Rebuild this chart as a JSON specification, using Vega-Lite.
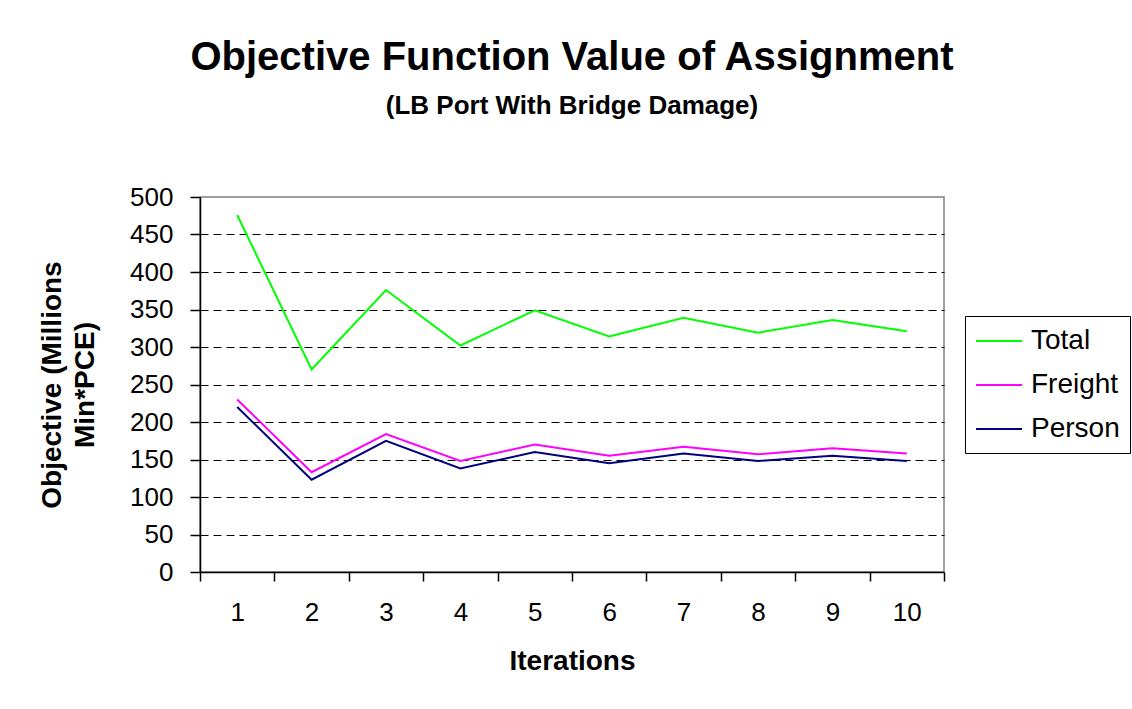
{
  "$schema": "https://vega.github.io/schema/vega-lite/v6.json",
  "autosize": "none",
  "width": 744,
  "height": 375,
  "padding": {"left": 200, "top": 197, "right": 188, "bottom": 137},
  "background": "white",
  "title": {
    "text": "Objective Function Value of Assignment",
    "subtitle": "(LB Port With Bridge Damage)",
    "anchor": "middle",
    "font": "Liberation Sans",
    "fontSize": 40,
    "fontWeight": "bold",
    "color": "black",
    "subtitleFont": "Liberation Sans",
    "subtitleFontSize": 26,
    "subtitleFontWeight": "bold",
    "subtitleColor": "black",
    "subtitlePadding": 15,
    "offset": 65
  },
  "data": {
    "values": [
      {"iteration": "1", "series": "Total", "value": 476},
      {"iteration": "2", "series": "Total", "value": 270},
      {"iteration": "3", "series": "Total", "value": 376},
      {"iteration": "4", "series": "Total", "value": 302},
      {"iteration": "5", "series": "Total", "value": 349},
      {"iteration": "6", "series": "Total", "value": 314},
      {"iteration": "7", "series": "Total", "value": 339},
      {"iteration": "8", "series": "Total", "value": 319},
      {"iteration": "9", "series": "Total", "value": 336},
      {"iteration": "10", "series": "Total", "value": 321},
      {"iteration": "1", "series": "Freight", "value": 230},
      {"iteration": "2", "series": "Freight", "value": 133},
      {"iteration": "3", "series": "Freight", "value": 184},
      {"iteration": "4", "series": "Freight", "value": 148},
      {"iteration": "5", "series": "Freight", "value": 170},
      {"iteration": "6", "series": "Freight", "value": 155},
      {"iteration": "7", "series": "Freight", "value": 167},
      {"iteration": "8", "series": "Freight", "value": 157},
      {"iteration": "9", "series": "Freight", "value": 165},
      {"iteration": "10", "series": "Freight", "value": 158},
      {"iteration": "1", "series": "Person", "value": 220},
      {"iteration": "2", "series": "Person", "value": 123},
      {"iteration": "3", "series": "Person", "value": 175},
      {"iteration": "4", "series": "Person", "value": 138},
      {"iteration": "5", "series": "Person", "value": 160},
      {"iteration": "6", "series": "Person", "value": 145},
      {"iteration": "7", "series": "Person", "value": 158},
      {"iteration": "8", "series": "Person", "value": 148},
      {"iteration": "9", "series": "Person", "value": 155},
      {"iteration": "10", "series": "Person", "value": 148}
    ]
  },
  "mark": {"type": "line", "strokeWidth": 2},
  "encoding": {
    "x": {
      "field": "iteration",
      "type": "ordinal",
      "sort": ["1","2","3","4","5","6","7","8","9","10"],
      "scale": {"type": "band", "paddingInner": 0, "paddingOuter": 0},
      "axis": {
        "title": "Iterations",
        "labelAngle": 0,
        "tickBand": "extent",
        "tickSize": 9,
        "tickColor": "black",
        "domainColor": "black",
        "labelFont": "Liberation Sans",
        "labelFontSize": 26,
        "labelColor": "black",
        "labelPadding": 18,
        "titleFont": "Liberation Sans",
        "titleFontSize": 28,
        "titleFontWeight": "bold",
        "titleColor": "black",
        "titlePadding": 22,
        "grid": false
      }
    },
    "y": {
      "field": "value",
      "type": "quantitative",
      "scale": {"domain": [0, 500], "nice": false, "zero": true},
      "axis": {
        "title": ["Objective (Millions", "Min*PCE)"],
        "values": [0,50,100,150,200,250,300,350,400,450,500],
        "tickSize": 10,
        "tickColor": "black",
        "domainColor": "black",
        "labelFont": "Liberation Sans",
        "labelFontSize": 26,
        "labelColor": "black",
        "labelPadding": 17,
        "titleFont": "Liberation Sans",
        "titleFontSize": 28,
        "titleFontWeight": "bold",
        "titleColor": "black",
        "titleLineHeight": 33,
        "titlePadding": 30,
        "grid": true,
        "gridColor": "black",
        "gridDash": [8, 5],
        "gridOpacity": {"condition": {"test": "datum.value === 500 || datum.value === 0", "value": 0}, "value": 1}
      }
    },
    "color": {
      "field": "series",
      "type": "nominal",
      "sort": ["Total", "Freight", "Person"],
      "scale": {"domain": ["Total", "Freight", "Person"], "range": ["#00FF00", "#FF00FF", "#000080"]},
      "legend": {
        "title": null,
        "orient": "none",
        "legendX": 765,
        "legendY": 119,
        "strokeColor": "black",
        "padding": 10,
        "fillColor": "white",
        "symbolType": "M-1,0H2.286",
        "symbolSize": 784,
        "symbolStrokeWidth": 2,
        "labelFont": "Liberation Sans",
        "labelFontSize": 28,
        "labelColor": "black",
        "labelOffset": 26,
        "rowPadding": 15
      }
    }
  },
  "config": {
    "view": {"stroke": "#808080", "strokeWidth": 1.5},
    "axis": {"domainWidth": 1.5, "tickWidth": 1.5}
  }
}
